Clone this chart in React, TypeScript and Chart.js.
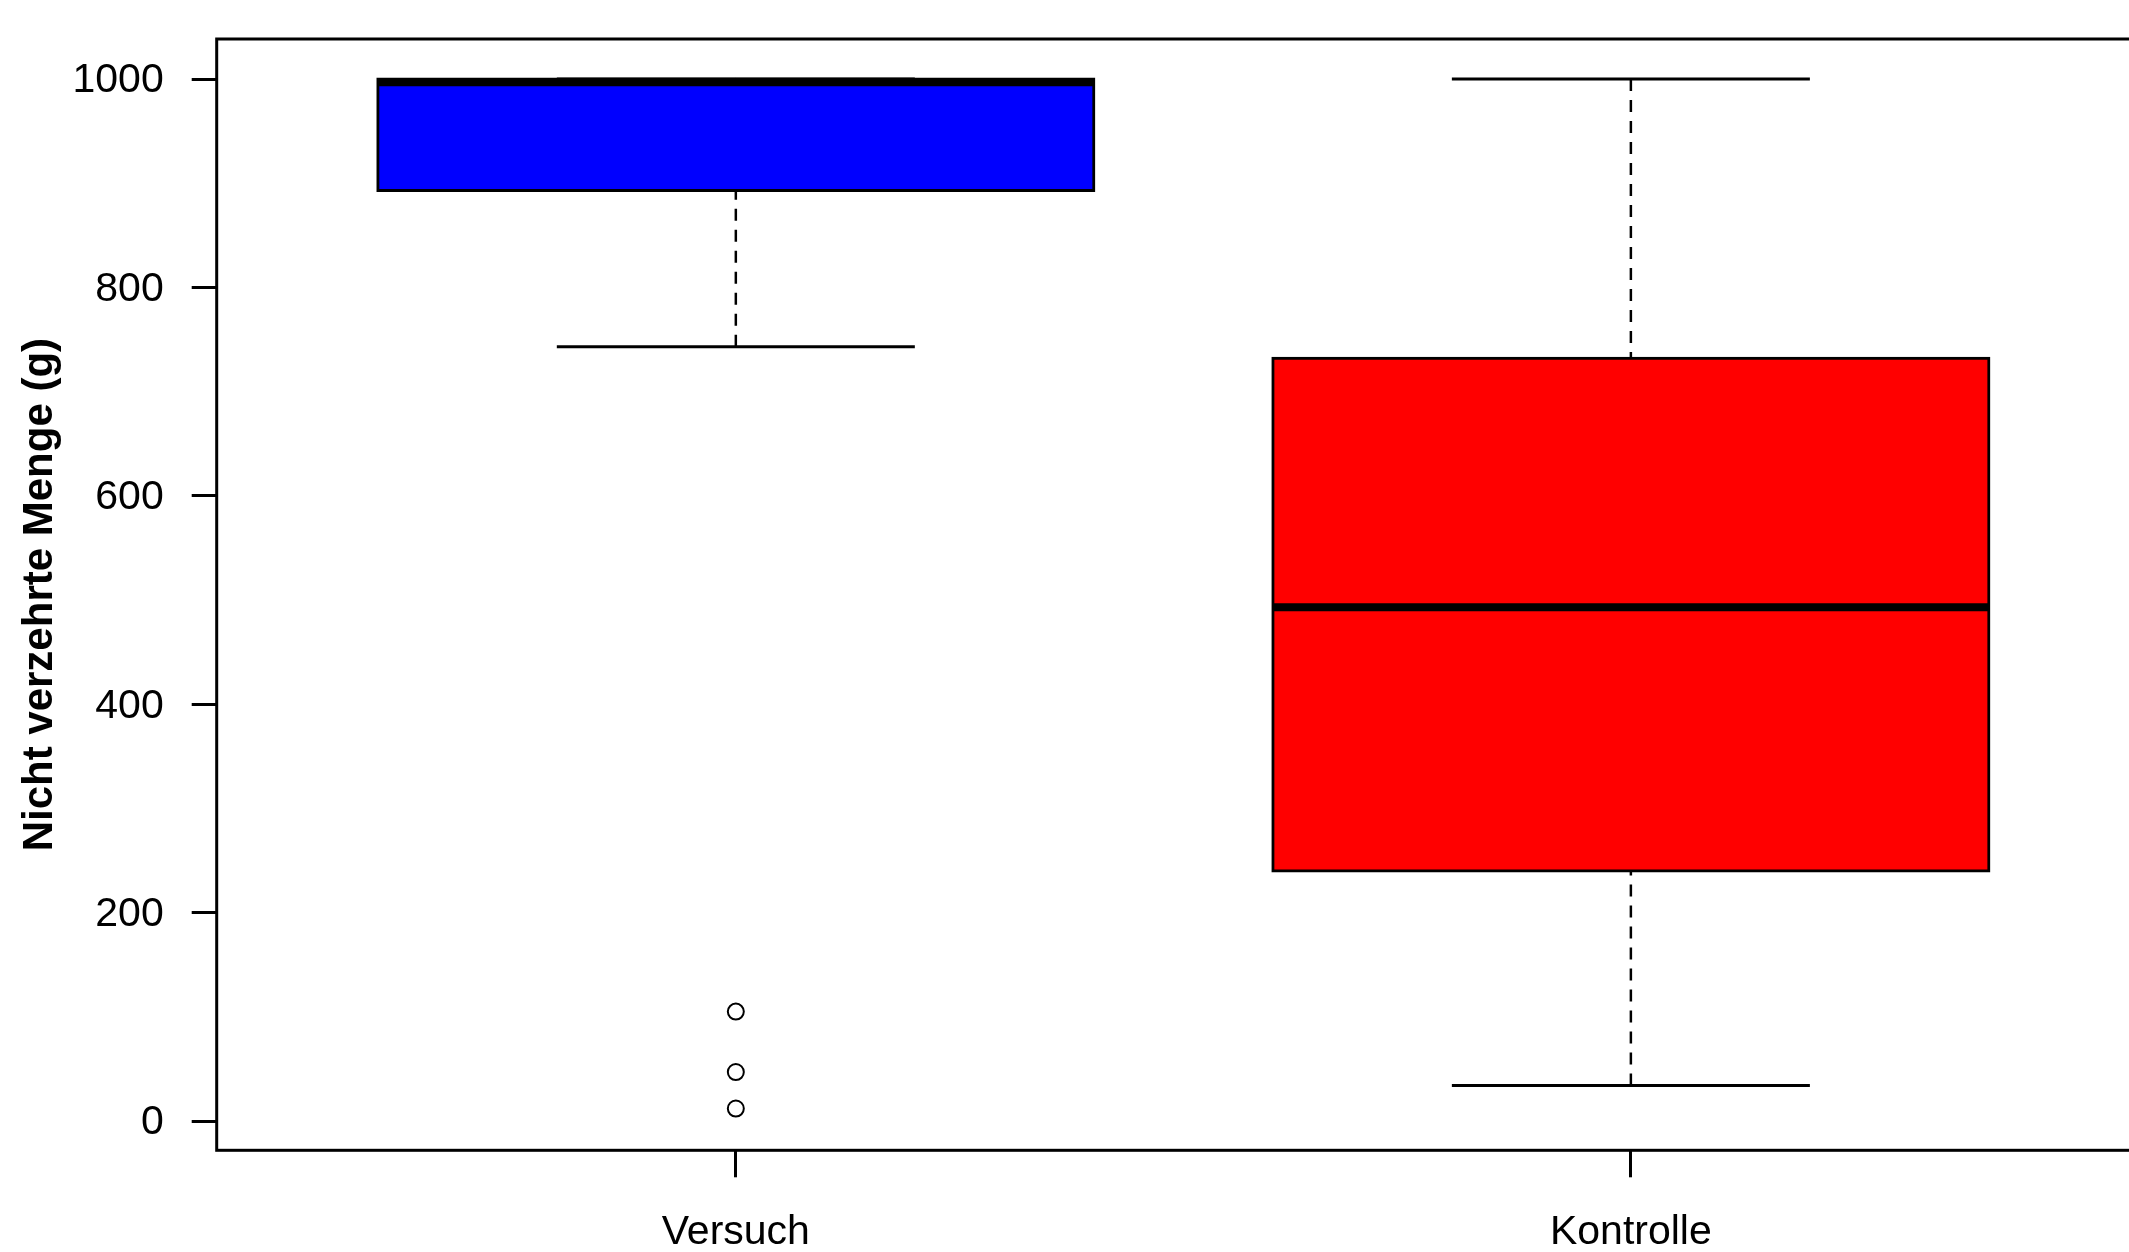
import React, { useEffect, useRef } from 'react';
import { Chart, registerables } from 'chart.js';

Chart.register(...registerables);

const categories = ['Versuch', 'Kontrolle'];
const positions = [1, 2];
const whiskerLow = [743, 34];
const q1 = [893, 240];
const median = [997, 493];
const q3 = [1000, 732];
const whiskerHigh = [1000, 1000];
const outliers = [[105, 47, 12], []];
const boxColors = ['#0000FF', '#FF0000'];
const yTicks = [0, 200, 400, 600, 800, 1000];
const yLabel = 'Nicht verzehrte Menge (g)';

const FONT = '"Liberation Sans", Arial, sans-serif';

const framePlugin = {
  id: 'frame',
  afterDraw(chart: any) {
    const { ctx, chartArea } = chart;
    const { left, top, right, bottom } = chartArea;
    ctx.save();
    ctx.strokeStyle = '#000';
    ctx.lineWidth = 3;
    ctx.strokeRect(left, top, right - left, bottom - top);
    ctx.restore();
  },
};

export default function App() {
  const ref = useRef<HTMLCanvasElement | null>(null);

  useEffect(() => {
    if (!ref.current) return;
    document.body.style.margin = '0';

    const lineBase = {
      type: 'line' as const,
      borderColor: '#000',
      pointRadius: 0,
      fill: false,
      tension: 0,
    };

    const datasets: any[] = [];

    datasets.push({
      type: 'bar',
      data: positions.map((p, i) => ({ x: p, y: [q1[i], q3[i]] })),
      backgroundColor: boxColors,
      borderColor: '#000',
      borderWidth: 3,
      borderSkipped: false,
      inflateAmount: 1.5,
      barPercentage: 0.8,
      categoryPercentage: 1,
      order: 10,
    });

    positions.forEach((p, i) => {
      datasets.push({
        ...lineBase,
        data: [{ x: p, y: whiskerLow[i] }, { x: p, y: q1[i] }],
        borderDash: [12, 9],
        borderWidth: 2.5,
        order: 8,
      });
      datasets.push({
        ...lineBase,
        data: [{ x: p, y: whiskerHigh[i] }, { x: p, y: q3[i] }],
        borderDash: [12, 9],
        borderWidth: 2.5,
        order: 8,
      });
      datasets.push({
        ...lineBase,
        data: [{ x: p - 0.2, y: whiskerLow[i] }, { x: p + 0.2, y: whiskerLow[i] }],
        borderWidth: 3,
        order: 6,
      });
      datasets.push({
        ...lineBase,
        data: [{ x: p - 0.2, y: whiskerHigh[i] }, { x: p + 0.2, y: whiskerHigh[i] }],
        borderWidth: 3,
        order: 6,
      });
      datasets.push({
        ...lineBase,
        data: [{ x: p - 0.4, y: median[i] }, { x: p + 0.4, y: median[i] }],
        borderWidth: 8,
        order: 2,
      });
      datasets.push({
        type: 'scatter',
        data: outliers[i].map((v) => ({ x: p, y: v })),
        pointRadius: 8,
        pointBorderWidth: 2,
        pointBorderColor: '#000',
        pointBackgroundColor: 'rgba(0,0,0,0)',
        borderColor: '#000',
        backgroundColor: 'rgba(0,0,0,0)',
        showLine: false,
        order: 0,
      });
    });

    const chart = new Chart(ref.current, {
      type: 'bar',
      data: { datasets },
      plugins: [framePlugin],
      options: {
        animation: false,
        responsive: false,
        maintainAspectRatio: false,
        devicePixelRatio: 1,
        layout: { padding: { left: 0, top: 39, right: 10, bottom: 0 } },
        plugins: {
          legend: { display: false },
          tooltip: { enabled: false },
        },
        scales: {
          x: {
            type: 'linear',
            min: 0.42,
            max: 2.58,
            offset: false,
            afterBuildTicks: (scale: any) => {
              scale.ticks = positions.map((v) => ({ value: v }));
            },
            afterFit: (scale: any) => {
              scale.height = 101.7;
              scale.paddingLeft = 0;
              scale.paddingRight = 0;
            },
            border: { display: false },
            grid: {
              display: true,
              offset: false,
              drawOnChartArea: false,
              drawTicks: true,
              tickLength: 27,
              color: '#000',
              lineWidth: 3,
            },
            ticks: {
              autoSkip: false,
              maxRotation: 0,
              minRotation: 0,
              padding: 31,
              color: '#000',
              font: { family: FONT, size: 41 },
              callback: (value: any) => {
                const idx = positions.indexOf(Number(value));
                return idx >= 0 ? categories[idx] : '';
              },
            },
          },
          y: {
            type: 'linear',
            min: -28.1,
            max: 1038.4,
            afterBuildTicks: (scale: any) => {
              scale.ticks = yTicks.map((v) => ({ value: v }));
            },
            afterFit: (scale: any) => {
              scale.width = 216.7;
              scale.paddingTop = 0;
              scale.paddingBottom = 0;
            },
            border: { display: false },
            grid: {
              display: true,
              drawOnChartArea: false,
              drawTicks: true,
              tickLength: 25,
              color: '#000',
              lineWidth: 3,
            },
            ticks: {
              padding: 28,
              labelOffset: 2,
              color: '#000',
              font: { family: FONT, size: 41 },
              callback: (value: any) => String(value),
            },
            title: {
              display: true,
              text: yLabel,
              color: '#000',
              font: { family: FONT, size: 42, weight: 'bold' },
              padding: { top: 15, bottom: 0 },
            },
          },
        },
      } as any,
    });

    return () => {
      chart.destroy();
    };
  }, []);

  return (
    <div
      style={{
        position: 'fixed',
        left: 0,
        top: 0,
        width: 2129,
        height: 1252,
        overflow: 'hidden',
        background: '#fff',
      }}
    >
      <canvas ref={ref} width={2160} height={1252} style={{ display: 'block' }} />
    </div>
  );
}
